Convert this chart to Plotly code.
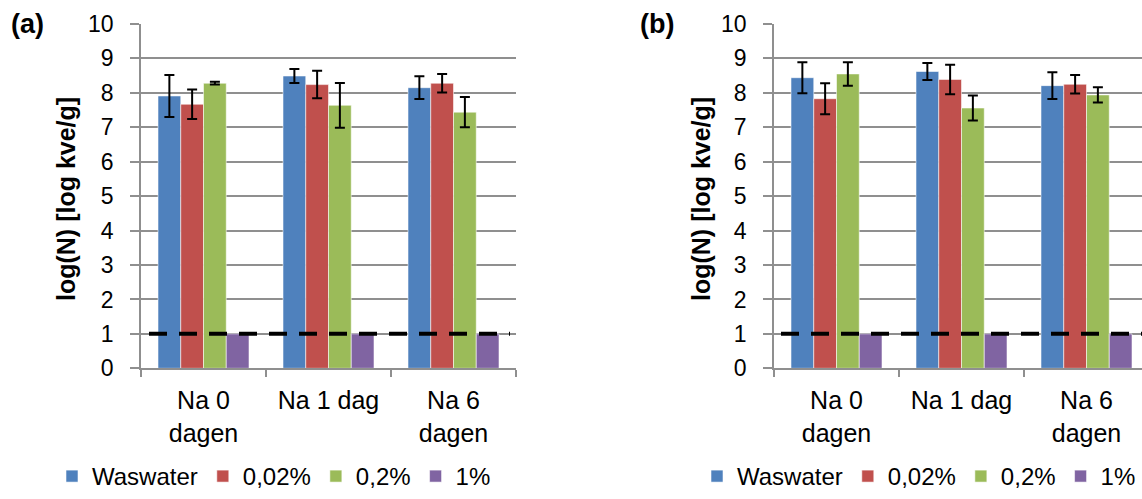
import plotly.graph_objects as go

# Sampling moments (x categories)
categories = ["Na 0<br>dagen", "Na 1 dag", "Na 6<br>dagen"]

# Treatment series names
series_names = ["Waswater", "0,02%", "0,2%", "1%"]
series_colors = ["#4F81BD", "#C0504D", "#9BBB59", "#8064A2"]

# Panel (a): log counts and standard deviations
a_waswater = [7.91, 8.49, 8.15]
a_waswater_sd = [0.61, 0.20, 0.33]
a_002 = [7.67, 8.24, 8.28]
a_002_sd = [0.43, 0.40, 0.27]
a_02 = [8.28, 7.64, 7.44]
a_02_sd = [0.04, 0.65, 0.44]
a_1 = [1.0, 1.0, 1.0]

# Panel (b): log counts and standard deviations
b_waswater = [8.44, 8.62, 8.21]
b_waswater_sd = [0.45, 0.25, 0.39]
b_002 = [7.83, 8.39, 8.25]
b_002_sd = [0.45, 0.43, 0.27]
b_02 = [8.55, 7.56, 7.94]
b_02_sd = [0.34, 0.36, 0.22]
b_1 = [1.0, 1.0, 1.0]

# Detection limit (log kve/g)
detection_limit = 1.0

y_ticks = list(range(0, 11))
y_title = "log(N) [log kve/g]"

FONT = "Liberation Sans, Arial, sans-serif"
GRAY = "#8f8f8f"
W, H = 1142, 499

panels = {
    "a": ([a_waswater, a_002, a_02, a_1], [a_waswater_sd, a_002_sd, a_02_sd, None]),
    "b": ([b_waswater, b_002, b_02, b_1], [b_waswater_sd, b_002_sd, b_02_sd, None]),
}

fig = go.Figure()

for p_idx, (key, (vals, sds)) in enumerate(panels.items()):
    xa = "x" if p_idx == 0 else "x2"
    ya = "y" if p_idx == 0 else "y2"
    lg = "legend" if p_idx == 0 else "legend2"
    for name, color, v, sd in zip(series_names, series_colors, vals, sds):
        err = None
        if sd is not None:
            err = dict(type="data", array=sd, visible=True, color="black",
                       thickness=2, width=5)
        fig.add_trace(go.Bar(
            x=categories, y=v, name=name, xaxis=xa, yaxis=ya, legend=lg,
            marker=dict(color=color, line=dict(color="rgba(255,255,255,0.55)", width=1)),
            error_y=err, showlegend=True,
        ))

# plot areas in pixels
ybot, ytop = 368.3, 24.0
ydom = [1 - ybot / H, 1 - ytop / H]
xdom_a = [141 / W, 516 / W]
xdom_b = [774 / W, 1.0]
# panel (b) is cut by the page's right edge, so its range is shortened to match
b_range_end = 2.5 - (774 + 375 - W) / 125

common_x = dict(
    type="category", tickson="boundaries", showgrid=False, showline=True,
    linecolor=GRAY, linewidth=1.5, ticks="outside", ticklen=7, tickcolor=GRAY,
    tickwidth=1.5, tickfont=dict(family=FONT, size=25, color="black"),
    ticklabelstandoff=9, fixedrange=True, automargin=False,
)
common_y = dict(
    range=[0, 10], tickvals=y_ticks, showgrid=True, gridcolor=GRAY, gridwidth=1.5,
    showline=True, linecolor=GRAY, linewidth=1.5, ticks="outside", ticklen=9,
    tickcolor=GRAY, tickwidth=1.5, zeroline=False, automargin=False,
    tickfont=dict(family=FONT, size=23, color="black"), ticklabelstandoff=12,
)

legend_common = dict(orientation="h", xanchor="left", yanchor="bottom",
                     xref="container", yref="container", y=0,
                     font=dict(family=FONT, size=24, color="black"), itemwidth=30,
                     bgcolor="rgba(0,0,0,0)", traceorder="normal")

fig.update_layout(
    template="none",
    width=W, height=H, margin=dict(l=0, r=0, t=0, b=0, autoexpand=False),
    paper_bgcolor="white", plot_bgcolor="white",
    barmode="group", bargap=0.272, bargroupgap=0,
    font=dict(family=FONT, color="black"),
    xaxis=dict(domain=xdom_a, anchor="y", range=[-0.5, 2.5], **common_x),
    xaxis2=dict(domain=xdom_b, anchor="y2", range=[-0.5, b_range_end], **common_x),
    yaxis=dict(domain=ydom, anchor="x", **common_y),
    yaxis2=dict(domain=ydom, anchor="x2", **common_y),
    legend=dict(x=52 / W, **legend_common),
    legend2=dict(x=697 / W, **legend_common),
)

# detection limit lines
for xr, yr, x0, x1 in [("x domain", "y", 8 / 375, 369 / 375),
                       ("x2 domain", "y2", 7 / 368, 1.0)]:
    fig.add_shape(type="line", xref=xr, yref=yr,
                  x0=x0, x1=x1, y0=detection_limit, y1=detection_limit,
                  line=dict(color="black", width=4, dash="18px,12px"), layer="above")

# axis titles and panel labels
for xc, label, lx in [(66, "(a)", 27), (701, "(b)", 657)]:
    fig.add_annotation(text=f"<b>{y_title}</b>", textangle=-90, xref="paper", yref="paper",
                       x=xc / W, y=1 - 199 / H, xanchor="center", yanchor="middle",
                       showarrow=False, font=dict(family=FONT, size=25, color="black"))
    fig.add_annotation(text=f"<b>{label}</b>", xref="paper", yref="paper",
                       x=lx / W, y=1 - 24 / H, xanchor="center", yanchor="middle",
                       showarrow=False, font=dict(family=FONT, size=27, color="black"))

fig.write_html("out.html", config={"displayModeBar": False})
